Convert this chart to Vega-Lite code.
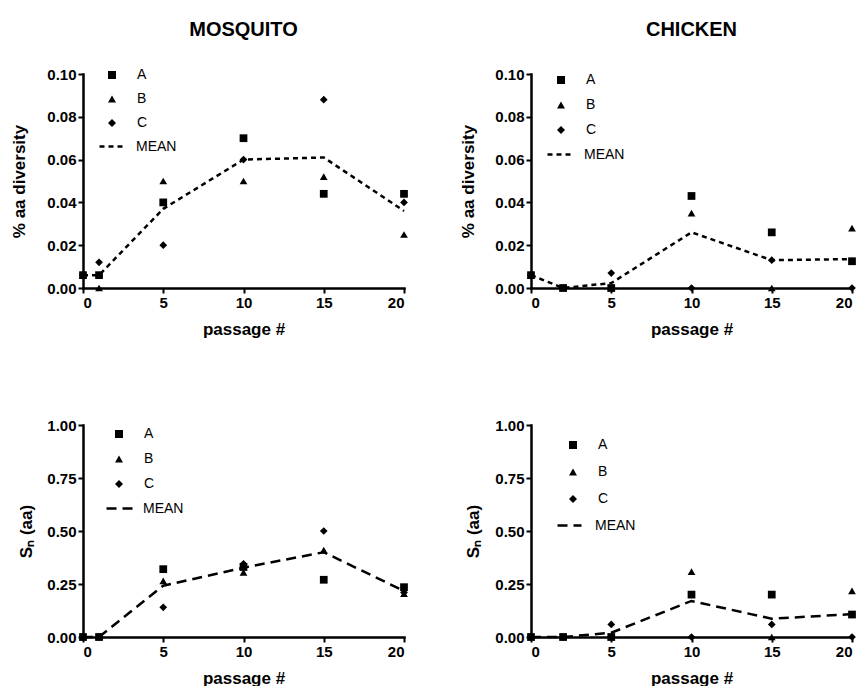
{
  "$schema": "https://vega.github.io/schema/vega-lite/v6.json",
  "background": "white",
  "padding": {"left": 10, "top": 20, "right": 0, "bottom": 0},
  "config": {
    "view": {"stroke": null},
    "font": "Liberation Sans",
    "axis": {
      "domainColor": "black", "domainWidth": 2.5, "domainCap": "square",
      "tickColor": "black", "tickWidth": 2, "tickSize": 5,
      "labelFont": "Liberation Sans", "labelFontWeight": "bold", "labelFontSize": 15, "labelColor": "black", "labelPadding": 2,
      "titleFont": "Liberation Sans", "titleFontWeight": "bold", "titleFontSize": 17, "titleColor": "black",
      "grid": false
    },
    "legend": {
      "labelFont": "Liberation Sans", "labelFontSize": 14, "labelColor": "black", "labelFontWeight": "normal",
      "symbolSize": 64, "padding": 0, "symbolOffset": 0, "labelOffset": 18,
      "symbolFillColor": "black", "symbolStrokeColor": "black", "symbolOpacity": 1
    },
    "point": {"filled": true, "color": "black", "opacity": 1, "size": 60},
    "line": {"color": "black", "strokeWidth": 2.5}
  },
  "datasets": {
    "d": [
      {"panel": "mosq_div", "passage": 0, "series": "C", "value": 0.006},
      {"panel": "mosq_div", "passage": 0, "series": "B", "value": 0.006},
      {"panel": "mosq_div", "passage": 0, "series": "A", "value": 0.006},
      {"panel": "mosq_div", "passage": 0, "series": "MEAN", "value": 0.006},
      {"panel": "mosq_div", "passage": 1, "series": "C", "value": 0.012},
      {"panel": "mosq_div", "passage": 1, "series": "B", "value": 0.0},
      {"panel": "mosq_div", "passage": 1, "series": "A", "value": 0.006},
      {"panel": "mosq_div", "passage": 1, "series": "MEAN", "value": 0.006},
      {"panel": "mosq_div", "passage": 5, "series": "C", "value": 0.020},
      {"panel": "mosq_div", "passage": 5, "series": "B", "value": 0.050},
      {"panel": "mosq_div", "passage": 5, "series": "A", "value": 0.040},
      {"panel": "mosq_div", "passage": 5, "series": "MEAN", "value": 0.037},
      {"panel": "mosq_div", "passage": 10, "series": "C", "value": 0.060},
      {"panel": "mosq_div", "passage": 10, "series": "B", "value": 0.050},
      {"panel": "mosq_div", "passage": 10, "series": "A", "value": 0.070},
      {"panel": "mosq_div", "passage": 10, "series": "MEAN", "value": 0.060},
      {"panel": "mosq_div", "passage": 15, "series": "C", "value": 0.088},
      {"panel": "mosq_div", "passage": 15, "series": "B", "value": 0.052},
      {"panel": "mosq_div", "passage": 15, "series": "A", "value": 0.044},
      {"panel": "mosq_div", "passage": 15, "series": "MEAN", "value": 0.061},
      {"panel": "mosq_div", "passage": 20, "series": "C", "value": 0.040},
      {"panel": "mosq_div", "passage": 20, "series": "B", "value": 0.025},
      {"panel": "mosq_div", "passage": 20, "series": "A", "value": 0.044},
      {"panel": "mosq_div", "passage": 20, "series": "MEAN", "value": 0.036},

      {"panel": "chick_div", "passage": 0, "series": "C", "value": 0.006},
      {"panel": "chick_div", "passage": 0, "series": "B", "value": 0.006},
      {"panel": "chick_div", "passage": 0, "series": "A", "value": 0.006},
      {"panel": "chick_div", "passage": 0, "series": "MEAN", "value": 0.006},
      {"panel": "chick_div", "passage": 2, "series": "C", "value": 0.0},
      {"panel": "chick_div", "passage": 2, "series": "B", "value": 0.0},
      {"panel": "chick_div", "passage": 2, "series": "A", "value": 0.0},
      {"panel": "chick_div", "passage": 2, "series": "MEAN", "value": 0.0},
      {"panel": "chick_div", "passage": 5, "series": "C", "value": 0.007},
      {"panel": "chick_div", "passage": 5, "series": "B", "value": 0.0},
      {"panel": "chick_div", "passage": 5, "series": "A", "value": 0.0},
      {"panel": "chick_div", "passage": 5, "series": "MEAN", "value": 0.0023},
      {"panel": "chick_div", "passage": 10, "series": "C", "value": 0.0},
      {"panel": "chick_div", "passage": 10, "series": "B", "value": 0.035},
      {"panel": "chick_div", "passage": 10, "series": "A", "value": 0.043},
      {"panel": "chick_div", "passage": 10, "series": "MEAN", "value": 0.026},
      {"panel": "chick_div", "passage": 15, "series": "C", "value": 0.013},
      {"panel": "chick_div", "passage": 15, "series": "B", "value": 0.0},
      {"panel": "chick_div", "passage": 15, "series": "A", "value": 0.026},
      {"panel": "chick_div", "passage": 15, "series": "MEAN", "value": 0.013},
      {"panel": "chick_div", "passage": 20, "series": "C", "value": 0.0},
      {"panel": "chick_div", "passage": 20, "series": "B", "value": 0.028},
      {"panel": "chick_div", "passage": 20, "series": "A", "value": 0.0125},
      {"panel": "chick_div", "passage": 20, "series": "MEAN", "value": 0.0135},

      {"panel": "mosq_sn", "passage": 0, "series": "C", "value": 0.0},
      {"panel": "mosq_sn", "passage": 0, "series": "B", "value": 0.0},
      {"panel": "mosq_sn", "passage": 0, "series": "A", "value": 0.0},
      {"panel": "mosq_sn", "passage": 0, "series": "MEAN", "value": 0.0},
      {"panel": "mosq_sn", "passage": 1, "series": "C", "value": 0.0},
      {"panel": "mosq_sn", "passage": 1, "series": "B", "value": 0.0},
      {"panel": "mosq_sn", "passage": 1, "series": "A", "value": 0.0},
      {"panel": "mosq_sn", "passage": 1, "series": "MEAN", "value": 0.0},
      {"panel": "mosq_sn", "passage": 5, "series": "C", "value": 0.14},
      {"panel": "mosq_sn", "passage": 5, "series": "B", "value": 0.265},
      {"panel": "mosq_sn", "passage": 5, "series": "A", "value": 0.32},
      {"panel": "mosq_sn", "passage": 5, "series": "MEAN", "value": 0.242},
      {"panel": "mosq_sn", "passage": 10, "series": "B", "value": 0.305},
      {"panel": "mosq_sn", "passage": 10, "series": "A", "value": 0.33},
      {"panel": "mosq_sn", "passage": 10, "series": "C", "value": 0.345},
      {"panel": "mosq_sn", "passage": 10, "series": "MEAN", "value": 0.327},
      {"panel": "mosq_sn", "passage": 15, "series": "C", "value": 0.50},
      {"panel": "mosq_sn", "passage": 15, "series": "B", "value": 0.41},
      {"panel": "mosq_sn", "passage": 15, "series": "A", "value": 0.27},
      {"panel": "mosq_sn", "passage": 15, "series": "MEAN", "value": 0.40},
      {"panel": "mosq_sn", "passage": 20, "series": "C", "value": 0.21},
      {"panel": "mosq_sn", "passage": 20, "series": "B", "value": 0.205},
      {"panel": "mosq_sn", "passage": 20, "series": "A", "value": 0.235},
      {"panel": "mosq_sn", "passage": 20, "series": "MEAN", "value": 0.217},

      {"panel": "chick_sn", "passage": 0, "series": "C", "value": 0.0},
      {"panel": "chick_sn", "passage": 0, "series": "B", "value": 0.0},
      {"panel": "chick_sn", "passage": 0, "series": "A", "value": 0.0},
      {"panel": "chick_sn", "passage": 0, "series": "MEAN", "value": 0.0},
      {"panel": "chick_sn", "passage": 2, "series": "C", "value": 0.0},
      {"panel": "chick_sn", "passage": 2, "series": "B", "value": 0.0},
      {"panel": "chick_sn", "passage": 2, "series": "A", "value": 0.0},
      {"panel": "chick_sn", "passage": 2, "series": "MEAN", "value": 0.0},
      {"panel": "chick_sn", "passage": 5, "series": "C", "value": 0.059},
      {"panel": "chick_sn", "passage": 5, "series": "B", "value": 0.0},
      {"panel": "chick_sn", "passage": 5, "series": "A", "value": 0.0},
      {"panel": "chick_sn", "passage": 5, "series": "MEAN", "value": 0.02},
      {"panel": "chick_sn", "passage": 10, "series": "C", "value": 0.0},
      {"panel": "chick_sn", "passage": 10, "series": "B", "value": 0.308},
      {"panel": "chick_sn", "passage": 10, "series": "A", "value": 0.20},
      {"panel": "chick_sn", "passage": 10, "series": "MEAN", "value": 0.17},
      {"panel": "chick_sn", "passage": 15, "series": "C", "value": 0.059},
      {"panel": "chick_sn", "passage": 15, "series": "B", "value": 0.0},
      {"panel": "chick_sn", "passage": 15, "series": "A", "value": 0.20},
      {"panel": "chick_sn", "passage": 15, "series": "MEAN", "value": 0.086},
      {"panel": "chick_sn", "passage": 20, "series": "C", "value": 0.0},
      {"panel": "chick_sn", "passage": 20, "series": "B", "value": 0.218},
      {"panel": "chick_sn", "passage": 20, "series": "A", "value": 0.106},
      {"panel": "chick_sn", "passage": 20, "series": "MEAN", "value": 0.108}
    ]
  },
  "columns": 2,
  "bounds": "flush",
  "spacing": {"row": 137, "column": 127},
  "resolve": {"scale": {"shape": "independent", "strokeDash": "independent"}, "legend": {"shape": "independent", "strokeDash": "independent"}},
  "concat": [
    {
      "width": 321, "height": 214,
      "title": {"text": "MOSQUITO", "font": "Liberation Sans", "fontSize": 20, "fontWeight": "bold", "color": "black", "anchor": "middle", "frame": "group", "offset": 27},
      "data": {"name": "d"},
      "transform": [{"filter": "datum.panel == 'mosq_div'"}],
      "encoding": {
        "x": {"field": "passage", "type": "quantitative", "scale": {"domain": [0, 20], "nice": false, "zero": true},
              "axis": {"values": [0, 5, 10, 15, 20], "title": "passage #", "titlePadding": 11}},
        "y": {"field": "value", "type": "quantitative", "scale": {"domain": [0, 0.1], "nice": false},
              "axis": {"values": [0, 0.02, 0.04, 0.06, 0.08, 0.1], "format": ".2f", "title": "% aa diversity", "titlePadding": 18}}
      },
      "layer": [
        {"transform": [{"filter": "datum.series == 'MEAN'"}], "mark": {"type": "line"},
         "encoding": {"strokeDash": {"field": "series", "type": "nominal",
           "scale": {"domain": ["MEAN"], "range": [[5, 4]]},
           "legend": {"orient": "none", "legendX": 15, "legendY": 59, "title": null, "symbolSize": 576, "symbolStrokeWidth": 2.5, "symbolStrokeColor": "black", "labelOffset": 11}}}},
        {"transform": [{"filter": "datum.series != 'MEAN'"}], "mark": {"type": "point"},
         "encoding": {"shape": {"field": "series", "type": "nominal",
           "scale": {"domain": ["A", "B", "C"], "range": ["square", "triangle-up", "diamond"]},
           "legend": {"orient": "none", "legendX": 22, "legendY": -6, "title": null, "rowPadding": 10}}}}
      ]
    },
    {
      "width": 321, "height": 214,
      "title": {"text": "CHICKEN", "font": "Liberation Sans", "fontSize": 20, "fontWeight": "bold", "color": "black", "anchor": "middle", "frame": "group", "offset": 27},
      "data": {"name": "d"},
      "transform": [{"filter": "datum.panel == 'chick_div'"}],
      "encoding": {
        "x": {"field": "passage", "type": "quantitative", "scale": {"domain": [0, 20], "nice": false, "zero": true},
              "axis": {"values": [0, 5, 10, 15, 20], "title": "passage #", "titlePadding": 11}},
        "y": {"field": "value", "type": "quantitative", "scale": {"domain": [0, 0.1], "nice": false},
              "axis": {"values": [0, 0.02, 0.04, 0.06, 0.08, 0.1], "format": ".2f", "title": "% aa diversity", "titlePadding": 17}}
      },
      "layer": [
        {"transform": [{"filter": "datum.series == 'MEAN'"}], "mark": {"type": "line"},
         "encoding": {"strokeDash": {"field": "series", "type": "nominal",
           "scale": {"domain": ["MEAN"], "range": [[5, 4]]},
           "legend": {"orient": "none", "legendX": 15, "legendY": 67, "title": null, "symbolSize": 576, "symbolStrokeWidth": 2.5, "symbolStrokeColor": "black", "labelOffset": 11}}}},
        {"transform": [{"filter": "datum.series != 'MEAN'"}], "mark": {"type": "point"},
         "encoding": {"shape": {"field": "series", "type": "nominal",
           "scale": {"domain": ["A", "B", "C"], "range": ["square", "triangle-up", "diamond"]},
           "legend": {"orient": "none", "legendX": 23, "legendY": -1, "title": null, "rowPadding": 11}}}}
      ]
    },
    {
      "width": 321, "height": 212,
      "data": {"name": "d"},
      "transform": [{"filter": "datum.panel == 'mosq_sn'"}],
      "encoding": {
        "x": {"field": "passage", "type": "quantitative", "scale": {"domain": [0, 20], "nice": false, "zero": true},
              "axis": {"values": [0, 5, 10, 15, 20], "title": "passage #", "titlePadding": 11}},
        "y": {"field": "value", "type": "quantitative", "scale": {"domain": [0, 1], "nice": false},
              "axis": {"values": [0, 0.25, 0.5, 0.75, 1], "format": ".2f", "title": "Sₙ (aa)", "titlePadding": 11}}
      },
      "layer": [
        {"transform": [{"filter": "datum.series == 'MEAN'"}], "mark": {"type": "line"},
         "encoding": {"strokeDash": {"field": "series", "type": "nominal",
           "scale": {"domain": ["MEAN"], "range": [[10, 6]]},
           "legend": {"orient": "none", "legendX": 22, "legendY": 69, "title": null, "symbolSize": 676, "symbolStrokeWidth": 2.5, "symbolStrokeColor": "black", "labelOffset": 9}}}},
        {"transform": [{"filter": "datum.series != 'MEAN'"}], "mark": {"type": "point"},
         "encoding": {"shape": {"field": "series", "type": "nominal",
           "scale": {"domain": ["A", "B", "C"], "range": ["square", "triangle-up", "diamond"]},
           "legend": {"orient": "none", "legendX": 29, "legendY": 2, "title": null, "rowPadding": 11}}}}
      ]
    },
    {
      "width": 321, "height": 212,
      "data": {"name": "d"},
      "transform": [{"filter": "datum.panel == 'chick_sn'"}],
      "encoding": {
        "x": {"field": "passage", "type": "quantitative", "scale": {"domain": [0, 20], "nice": false, "zero": true},
              "axis": {"values": [0, 5, 10, 15, 20], "title": "passage #", "titlePadding": 11}},
        "y": {"field": "value", "type": "quantitative", "scale": {"domain": [0, 1], "nice": false},
              "axis": {"values": [0, 0.25, 0.5, 0.75, 1], "format": ".2f", "title": "Sₙ (aa)", "titlePadding": 12}}
      },
      "layer": [
        {"transform": [{"filter": "datum.series == 'MEAN'"}], "mark": {"type": "line"},
         "encoding": {"strokeDash": {"field": "series", "type": "nominal",
           "scale": {"domain": ["MEAN"], "range": [[10, 6]]},
           "legend": {"orient": "none", "legendX": 25, "legendY": 87, "title": null, "symbolSize": 576, "symbolStrokeWidth": 2.5, "symbolStrokeColor": "black", "labelOffset": 12}}}},
        {"transform": [{"filter": "datum.series != 'MEAN'"}], "mark": {"type": "point"},
         "encoding": {"shape": {"field": "series", "type": "nominal",
           "scale": {"domain": ["A", "B", "C"], "range": ["square", "triangle-up", "diamond"]},
           "legend": {"orient": "none", "legendX": 35, "legendY": 13, "title": null, "rowPadding": 13}}}}
      ]
    }
  ]
}
